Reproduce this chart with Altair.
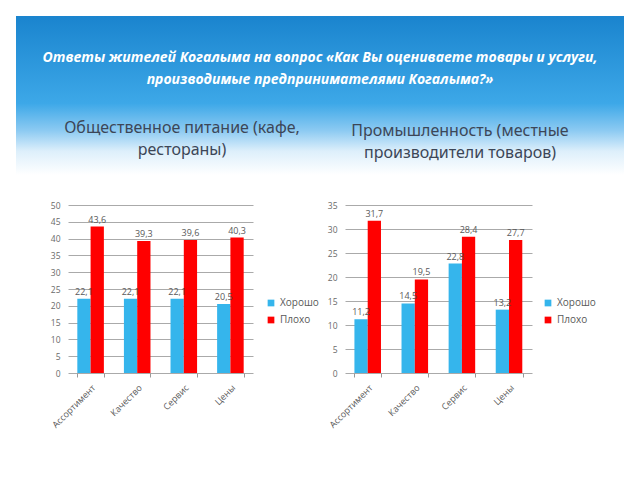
import altair as alt
import pandas as pd

# ---- data ----
categories = ["Ассортимент", "Качество", "Сервис", "Цены"]
series = ["Хорошо", "Плохо"]
left_good = [22.1, 22.1, 22.1, 20.5]
left_bad = [43.6, 39.3, 39.6, 40.3]
right_good = [11.2, 14.5, 22.8, 13.2]
right_bad = [31.7, 19.5, 28.4, 27.7]

title_lines = ["Ответы жителей Когалыма на вопрос «Как Вы оцениваете товары и услуги,",
               "производимые предпринимателями Когалыма?»"]
left_sub = ["Общественное питание (кафе,", "рестораны)"]
right_sub = ["Промышленность (местные", "производители товаров)"]

BLUE = "#35B5EC"
RED = "#FF0000"
GRAY = "#595959"

# page position of the left plot's top-left corner
OX, OY = 68, 205
PW, PH = 185, 168


def make_df(good, bad):
    rows = []
    for s, vals in zip(series, [good, bad]):
        for c, v in zip(categories, vals):
            rows.append({"cat": c, "series": s, "value": v,
                         "label": f"{v:.1f}".replace(".", ",")})
    return pd.DataFrame(rows)


def bar_layers(df, ymax, tick_step=5):
    base = alt.Chart(df).encode(
        x=alt.X("cat:N", sort=categories, title=None,
                scale=alt.Scale(paddingInner=0.43, paddingOuter=0.2),
                axis=alt.Axis(labelAngle=-45, labelAlign="right", labelBaseline="top",
                              labelFontSize=9, labelColor=GRAY, labelFont="Open Sans",
                              domain=False, ticks=True, tickBand="extent", tickSize=4,
                              tickColor="#999999", grid=False, labelPadding=6)),
        xOffset=alt.XOffset("series:N", sort=series),
        y=alt.Y("value:Q", title=None,
                scale=alt.Scale(domain=[0, ymax], nice=False),
                axis=alt.Axis(values=list(range(0, ymax + 1, tick_step)), domain=False,
                              ticks=False, labelFontSize=8.5, labelColor="#6a6a6a",
                              labelFont="Open Sans", grid=True, gridColor="#aaaaaa",
                              labelPadding=8)),
    )
    bars = base.mark_bar().encode(
        color=alt.Color("series:N", sort=series,
                        scale=alt.Scale(domain=series, range=[BLUE, RED]),
                        legend=alt.Legend(title=None, orient="none", legendX=198, legendY=93,
                                          symbolType="square", symbolSize=45,
                                          labelFontSize=10, labelColor=GRAY,
                                          labelFont="Open Sans", rowPadding=7))
    )
    labels = base.mark_text(dy=-7, fontSize=9, color=GRAY, font="Open Sans").encode(
        text="label:N")
    return [bars, labels]


# ---- header decoration (placed in page coordinates relative to left plot) ----
dummy = pd.DataFrame({"a": [0]})
page = alt.Chart(dummy).mark_rect(color="white", opacity=0).encode(
    x=alt.value(-OX), x2=alt.value(640 - OX), y=alt.value(-OY), y2=alt.value(480 - OY))
bg = alt.Chart(dummy).mark_rect(
    color=alt.LinearGradient(
        gradient="linear", x1=0, x2=0, y1=0, y2=1,
        stops=[alt.GradientStop(offset=0, color="#1A84CE"),
               alt.GradientStop(offset=0.55, color="#3DA8E8"),
               alt.GradientStop(offset=0.72, color="#8CCAF2"),
               alt.GradientStop(offset=0.85, color="#DDEFFB"),
               alt.GradientStop(offset=1, color="#FFFFFF")])
).encode(x=alt.value(16 - OX), x2=alt.value(624 - OX), y=alt.value(16 - OY),
         y2=alt.value(175 - OY))

header_layers = [page, bg]
for i, line in enumerate(title_lines):
    header_layers.append(alt.Chart(dummy).mark_text(
        text=line, font="Open Sans", fontSize=14, fontWeight="bold", fontStyle="italic",
        color="white", align="center", baseline="middle"
    ).encode(x=alt.value(320 - OX), y=alt.value(58 - OY + 22 * i)))
for subs, cx, cy in [(left_sub, 182, 128), (right_sub, 460, 131)]:
    for i, line in enumerate(subs):
        header_layers.append(alt.Chart(dummy).mark_text(
            text=line, font="Noto Sans", fontSize=16, color="#3C4657",
            align="center", baseline="middle"
        ).encode(x=alt.value(cx - OX), y=alt.value(cy - OY + 22 * i)))

left = alt.layer(*header_layers, *bar_layers(make_df(left_good, left_bad), 50)).properties(
    width=PW, height=PH)
right = alt.layer(*bar_layers(make_df(right_good, right_bad), 35)).properties(
    width=PW + 2, height=PH)

chart = alt.hconcat(left, right, spacing=92, bounds="flush").resolve_scale(
    y="independent", color="independent").resolve_legend(color="independent").properties(
    padding=0, background="white"
).configure_view(stroke=None)

chart.save("out.html", embed_options={"renderer": "svg", "actions": False})
